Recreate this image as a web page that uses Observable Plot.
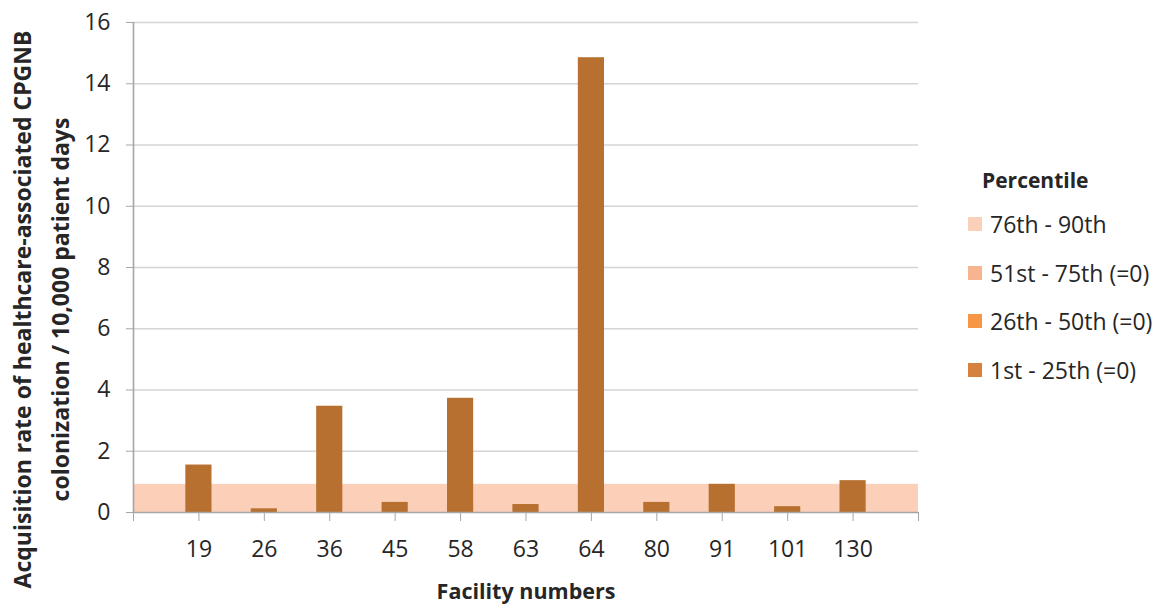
<!DOCTYPE html>
<html>
<head>
<meta charset="utf-8">
<script src="https://cdn.jsdelivr.net/npm/d3@7"></script>
<script src="https://cdn.jsdelivr.net/npm/@observablehq/plot@0.6"></script>
<style>
  html, body { margin: 0; padding: 0; background: #fff; }
  #wrap { position: relative; width: 1160px; height: 604px; font-family: "Open Sans", sans-serif; color: #262626; }
  #legend { position: absolute; left: 968px; top: 160px; }
  #legend .title { font-weight: bold; font-size: 21px; margin-left: 14px; height: 40px; line-height: 40px; }
  #legend .item { display: flex; align-items: center; height: 48.5px; font-size: 23px; white-space: nowrap; }
  #legend .sw { width: 14px; height: 14px; margin-right: 8px; }
</style>
</head>
<body>
<div id="wrap"></div>
<script>
// ---- data ----
const facilities = ["19", "26", "36", "45", "58", "63", "64", "80", "91", "101", "130"];
const rates = [1.55, 0.12, 3.47, 0.33, 3.73, 0.26, 14.85, 0.33, 0.92, 0.19, 1.04];
const band76to90 = 0.92;            // 76th - 90th percentile upper bound
const yTicks = [0, 2, 4, 6, 8, 10, 12, 14, 16];
const legendTitle = "Percentile";
const legendLabels = ["76th - 90th", "51st - 75th (=0)", "26th - 50th (=0)", "1st - 25th (=0)"];
const legendColors = ["#FBCFB8", "#F8B48F", "#F79646", "#D6813E"];
const barColor = "#B7702F";
const yTitle = "Acquisition rate of healthcare-associated CPGNB\ncolonization / 10,000 patient days";
const xTitle = "Facility numbers";

const data = facilities.map((f, k) => ({facility: f, pos: k + 1, rate: rates[k]}));
const nSlots = facilities.length + 1;
const xTicks = d3.range(0, nSlots + 1);
const font = "'Open Sans', sans-serif";

const chart = Plot.plot({
  width: 1160,
  height: 604,
  marginLeft: 133,
  marginRight: 242,
  marginTop: 22,
  marginBottom: 92,
  style: {fontFamily: font, fontSize: "23px", color: "#262626", background: "#fff"},
  x: {domain: [0, nSlots]},
  y: {domain: [0, 16]},
  marks: [
    Plot.ruleY(yTicks.filter(d => d > 0), {stroke: "#d4d4d4", strokeWidth: 1.6}),
    Plot.rectY([band76to90], {x1: 0, x2: nSlots, y1: 0, y2: d => d, fill: legendColors[0]}),
    Plot.rectY(data, {x1: d => d.pos - 0.2, x2: d => d.pos + 0.2, y1: 0, y2: "rate", fill: barColor}),
    Plot.ruleX([0], {stroke: "#a6a6a6", strokeWidth: 1.6}),
    Plot.ruleY([0], {stroke: "#a6a6a6", strokeWidth: 1.6}),
    Plot.axisY({ticks: yTicks, tickSize: 7, tickPadding: 16, stroke: "#a6a6a6", tickFormat: d => String(d), label: null, fontSize: 23}),
    Plot.axisX({ticks: xTicks, tickSize: 9, tickPadding: 19, stroke: "#a6a6a6",
      tickFormat: i => (i >= 1 && i <= facilities.length) ? facilities[i - 1] : "", label: null, fontSize: 23}),
    Plot.text([xTitle], {frameAnchor: "bottom", dy: 86, text: d => d, fontWeight: "bold", fontSize: 21.5, lineAnchor: "bottom", fill: "#262626"}),
    Plot.text([yTitle], {frameAnchor: "left", dx: -96, dy: 42, rotate: -90, textAnchor: "middle", text: d => d, fontWeight: "bold", fontSize: 23, lineHeight: 1.65, fill: "#262626"})
  ]
});

const wrap = document.getElementById("wrap");
wrap.appendChild(chart);

const legend = document.createElement("div");
legend.id = "legend";
const t = document.createElement("div");
t.className = "title";
t.textContent = legendTitle;
legend.appendChild(t);
legendLabels.forEach((lab, k) => {
  const it = document.createElement("div");
  it.className = "item";
  const sw = document.createElement("div");
  sw.className = "sw";
  sw.style.background = legendColors[k];
  const tx = document.createElement("span");
  tx.textContent = lab;
  it.appendChild(sw);
  it.appendChild(tx);
  legend.appendChild(it);
});
wrap.appendChild(legend);
</script>
</body>
</html>
